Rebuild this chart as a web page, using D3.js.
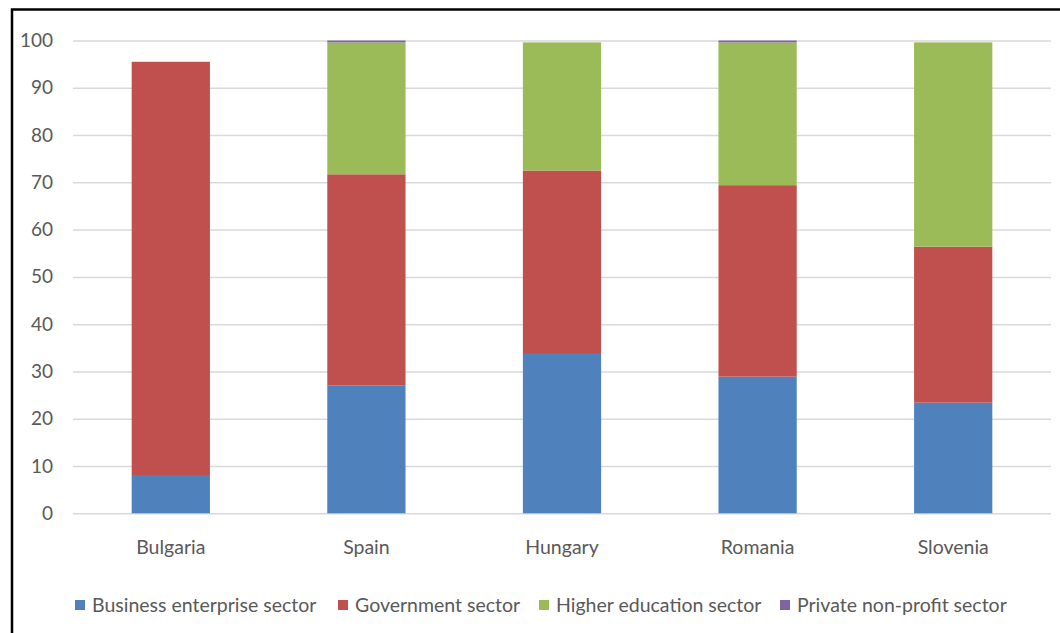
<!DOCTYPE html>
<html>
<head>
<meta charset="utf-8">
<script src="https://cdn.jsdelivr.net/npm/d3@7"></script>
<style>
  body { margin: 0; background: #fff; }
  text { font-family: Lato, "Open Sans", sans-serif; fill: #595959; }
</style>
</head>
<body>
<div class="chart"></div>
<script>
// Data.
const countries = ['Bulgaria', 'Spain', 'Hungary', 'Romania', 'Slovenia'];
const sectors = ['Business enterprise sector', 'Government sector', 'Higher education sector', 'Private non-profit sector'];
const business = [8.1, 27.0, 33.7, 28.9, 23.4];
const government = [87.4, 44.7, 38.8, 40.5, 33.0];
const higherEducation = [0, 27.9, 27.1, 30.2, 43.2];
const privateNonProfit = [0, 0.4, 0, 0.4, 0];
const yTicks = [0, 10, 20, 30, 40, 50, 60, 70, 80, 90, 100];
const colors = ['#4f81bd', '#c0504d', '#9bbb59', '#8064a2'];

const rows = countries.map((c, i) => ({
  country: c,
  [sectors[0]]: business[i],
  [sectors[1]]: government[i],
  [sectors[2]]: higherEducation[i],
  [sectors[3]]: privateNonProfit[i]
}));

const W = 1060, H = 633;
const svg = d3.select('.chart')
  .append('svg')
  .attr('width', W)
  .attr('height', H);

// Frame.
svg.append('path')
  .attr('d', `M12,${H} L12,9.5 L${W},9.5`)
  .attr('fill', 'none')
  .attr('stroke', '#000')
  .attr('stroke-width', 2.5);

// Scales.
const xScale = d3.scaleBand()
  .domain(countries)
  .range([73, 1051])
  .paddingInner(0.6)
  .paddingOuter(0.3);

const yScale = d3.scaleLinear()
  .domain([0, 100])
  .range([513.3, 40.5]);

const color = d3.scaleOrdinal().domain(sectors).range(colors);

// Grid + y labels.
const yAxis = d3.axisLeft(yScale)
  .tickValues(yTicks)
  .tickSize(-(1051 - 73))
  .tickPadding(20);

const yAxisDraw = svg.append('g')
  .attr('transform', 'translate(73,0)')
  .call(yAxis);

yAxisDraw.select('.domain').remove();
yAxisDraw.selectAll('line').attr('stroke', '#d9d9d9').attr('stroke-width', 1.5);
yAxisDraw.selectAll('text')
  .style('font-size', '19px')
  .attr('fill', '#595959');

// Bars.
const stacked = d3.stack().keys(sectors)(rows);

svg.append('g')
  .selectAll('g')
  .data(stacked)
  .join('g')
  .attr('fill', d => color(d.key))
  .selectAll('rect')
  .data(d => d)
  .join('rect')
  .attr('x', d => xScale(d.data.country))
  .attr('y', d => yScale(d[1]))
  .attr('width', xScale.bandwidth())
  .attr('height', d => yScale(d[0]) - yScale(d[1]));

// X labels.
const xAxis = d3.axisBottom(xScale).tickSize(0).tickPadding(27);
const xAxisDraw = svg.append('g')
  .attr('transform', 'translate(0,513.3)')
  .call(xAxis);
xAxisDraw.select('.domain').remove();
xAxisDraw.selectAll('text')
  .style('font-size', '19.5px')
  .attr('fill', '#595959');

// Legend.
const legendX = [75, 338, 539, 780];
const legend = svg.append('g')
  .selectAll('g')
  .data(sectors)
  .join('g')
  .attr('transform', (d, i) => `translate(${legendX[i]},600)`);

legend.append('rect')
  .attr('width', 10)
  .attr('height', 10)
  .attr('fill', d => color(d));

legend.append('text')
  .attr('x', 17)
  .attr('y', 12)
  .style('font-size', '19.5px')
  .text(d => d);
</script>
</body>
</html>
